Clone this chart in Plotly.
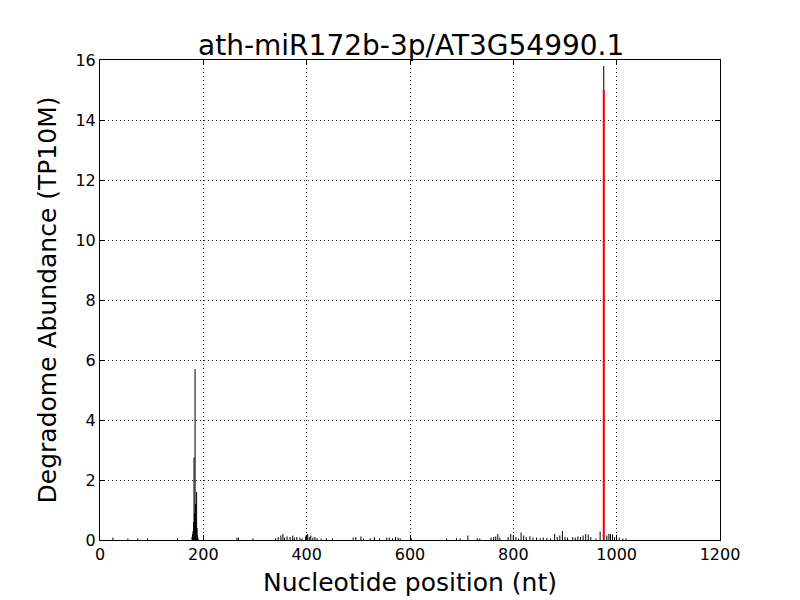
import plotly.graph_objects as go

title = "ath-miR172b-3p/AT3G54990.1"
x_label = "Nucleotide position (nt)"
y_label = "Degradome Abundance (TP10M)"

black_pos = [25, 54, 73, 92, 150, 178, 179, 180, 181, 182, 183, 184, 185, 186, 187, 188, 189, 190,
             265, 268, 296, 340, 345, 350, 354, 357, 362, 368, 373, 376, 381, 387, 391,
             398, 402, 405, 408, 412, 416, 420, 428, 438, 450, 490, 495, 505, 510, 523, 531, 541,
             555, 560, 566, 572, 577, 581, 603, 671, 690, 697, 712, 730, 735, 757, 762, 766, 770, 774,
             790, 795, 800, 805, 810, 815, 820, 825, 832, 838, 845, 852, 858, 865, 872, 880, 885, 890,
             895, 900, 905, 915, 920, 925, 930, 935, 940, 945, 950, 960, 968, 975, 981, 985, 988, 992,
             996, 1005, 1012, 1018]
black_val = [0.08, 0.05, 0.05, 0.05, 0.05, 0.1, 0.2, 0.3, 0.6, 2.75, 0.9, 5.7, 1.2, 0.7, 1.6, 0.4, 0.15, 0.05,
             0.08, 0.08, 0.05, 0.06, 0.1, 0.15, 0.2, 0.08, 0.12, 0.1, 0.15, 0.08, 0.1, 0.08, 0.05,
             0.12, 0.2, 0.1, 0.15, 0.08, 0.1, 0.06, 0.05, 0.06, 0.05, 0.08, 0.1, 0.12, 0.05, 0.06, 0.1, 0.05,
             0.08, 0.08, 0.06, 0.1, 0.08, 0.06, 0.05, 0.05, 0.06, 0.05, 0.15, 0.06, 0.05, 0.08, 0.1, 0.12, 0.2, 0.08,
             0.1, 0.2, 0.15, 0.1, 0.05, 0.25, 0.15, 0.1, 0.12, 0.08, 0.08, 0.06, 0.08, 0.06, 0.05, 0.2, 0.1, 0.15,
             0.3, 0.1, 0.08, 0.1, 0.08, 0.12, 0.1, 0.15, 0.2, 0.18, 0.1, 0.05, 0.28, 15.8, 0.15, 0.2, 0.2, 0.18,
             0.1, 0.08, 0.05, 0.05]

red_pos = [975]
red_val = [15.0]

x_ticks = [0, 200, 400, 600, 800, 1000, 1200]
y_ticks = [0, 2, 4, 6, 8, 10, 12, 14, 16]


def segments(pos, val):
    xs, ys = [], []
    for p, v in zip(pos, val):
        xs += [p, p, None]
        ys += [0, v, None]
    return xs, ys


bx, by = segments(black_pos, black_val)
rx, ry = segments(red_pos, red_val)

fig = go.Figure()
fig.add_trace(go.Scatter(x=bx, y=by, mode="lines", line=dict(color="black", width=1),
                         hoverinfo="skip", showlegend=False))
fig.add_trace(go.Scatter(x=rx, y=ry, mode="lines", line=dict(color="red", width=2),
                         hoverinfo="skip", showlegend=False))

font = "DejaVu Sans"
axis_common = dict(
    showline=True, linecolor="black", linewidth=1, mirror="ticks",
    ticks="inside", ticklen=5, tickcolor="black", tickwidth=1,
    showgrid=True, gridcolor="#222222", gridwidth=1, griddash="1px,3px",
    zeroline=False, tickfont=dict(family=font, size=16, color="black"),
)

fig.update_layout(
    width=800, height=600,
    paper_bgcolor="white", plot_bgcolor="white",
    margin=dict(l=92, r=88, t=52, b=68),
    title=dict(text=title, x=0.504, xanchor="center", y=0.922, yanchor="bottom",
               font=dict(family=font, size=28, color="black")),
    xaxis=dict(range=[0, 1200], tickvals=x_ticks, ticktext=[str(t) for t in x_ticks],
               title=dict(text=x_label, font=dict(family=font, size=25, color="black"), standoff=10),
               **axis_common),
    yaxis=dict(range=[0, 16], tickvals=y_ticks, ticktext=[str(t) for t in y_ticks],
               title=dict(text=y_label, font=dict(family=font, size=25, color="black"), standoff=11),
               **axis_common),
)

fig.write_html("out.html")
